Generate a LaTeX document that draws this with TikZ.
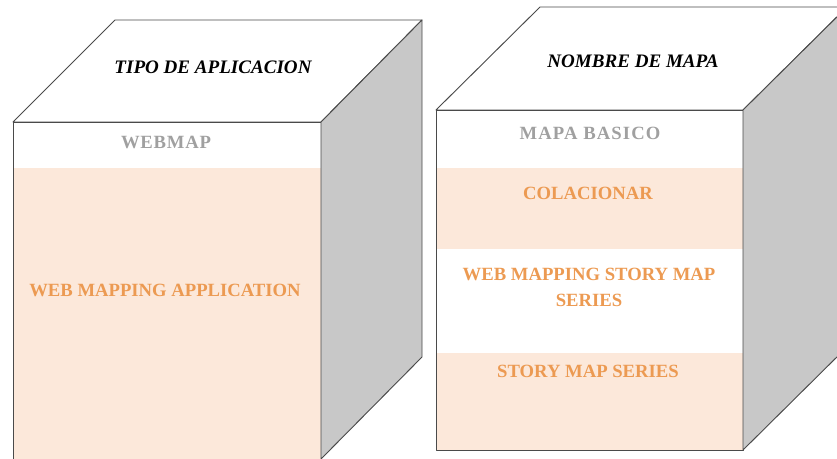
\documentclass[tikz,border=0pt]{standalone}
\usepackage{fontspec}
\setmainfont{Liberation Serif}
\usepackage{xcolor}
\usepackage{tikz}
\definecolor{peach}{HTML}{FCE8DA}
\definecolor{sidegray}{HTML}{C8C8C8}
\definecolor{labelorange}{HTML}{EC9A52}
\definecolor{labelgray}{HTML}{A0A0A0}
\definecolor{edgegray}{HTML}{4A4A4A}
\newcommand{\TT}[0]{\bfseries\itshape\fontsize{14.3}{17}\selectfont}
\newcommand{\LB}[0]{\bfseries\fontsize{14}{19.5}\selectfont}

\begin{document}
\begin{tikzpicture}[x=0.75pt, y=-0.75pt]

  \tikzset{
    face/.style={draw=edgegray, line width=0.7pt, line join=round},
    title/.style={font=\TT, text=black},
    head/.style={font=\LB, text=labelgray},
    entry/.style={font=\LB, text=labelorange, align=center}
  }

  \useasboundingbox (0,0) rectangle (837,459);
  \clip (0,0) rectangle (837,459);

  %% left cube
  \fill[peach] (13,168) rectangle (321,459);
  \draw[face] (13,122) rectangle (321,459); % front
  \draw[face, fill=white] (13,122) -- (115,20) -- (422,20) -- (321,122) -- cycle; % top
  \draw[face, fill=sidegray] (321,122) -- (422,20) -- (422,357) -- (321,459) -- cycle; % side

  %% right cube
  \fill[peach] (436,168) rectangle (743,249);
  \fill[peach] (436,353) rectangle (743,450);
  \draw[face] (436,110) rectangle (743,450); % front
  \draw[face, fill=white] (436,110) -- (540,7) -- (847,7) -- (743,110) -- cycle; % top
  \draw[face, fill=sidegray] (743,110) -- (847,7) -- (847,347) -- (743,450) -- cycle; % side

  %% labels
  \node[title] (tipo) at (213,67) {TIPO DE APLICACION};
  \node[head] (webmap) at (166,142) {\addfontfeature{LetterSpace=4}WEBMAP};
  \node[entry] (webapp) at (165,290) {WEB MAPPING APPLICATION};

  \node[title] (nombre) at (633,61) {NOMBRE DE MAPA};
  \node[head] (basico) at (590,133) {\addfontfeature{LetterSpace=6}MAPA BASICO};
  \node[entry] (colacionar) at (588,193) {COLACIONAR};
  \node[entry] (webstory) at (589,287) {WEB MAPPING STORY MAP\\SERIES};
  \node[entry] (story) at (588,371) {STORY MAP SERIES};

\end{tikzpicture}
\end{document}
